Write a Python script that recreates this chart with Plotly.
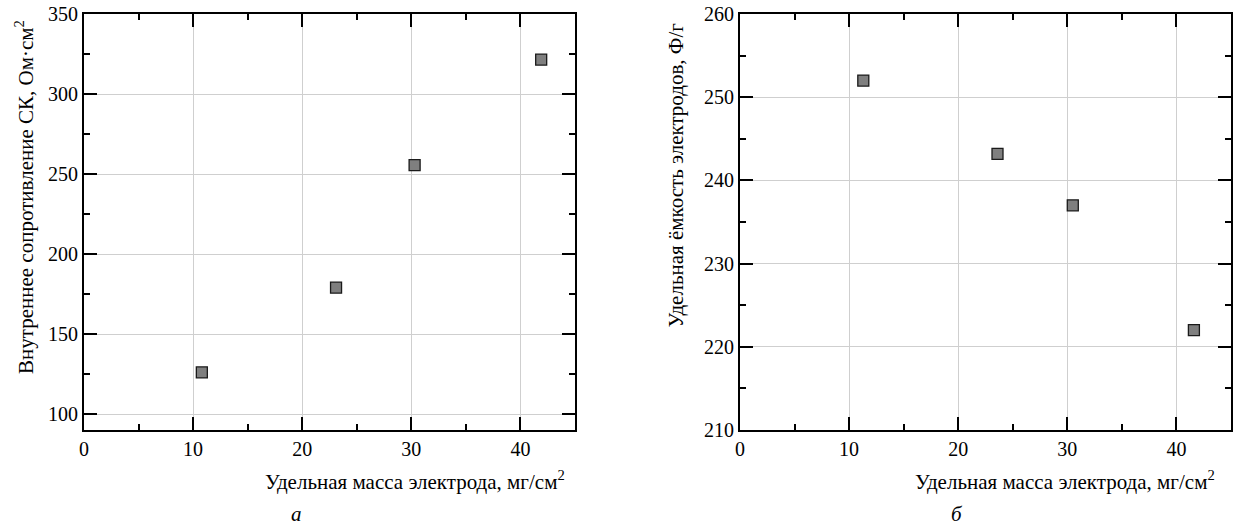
import plotly.graph_objects as go

# Panel a: internal resistance vs electrode specific mass
mass_a = [10.8, 23.1, 30.3, 41.9]
resist_a = [126, 179, 255.5, 321.5]

# Panel b: specific capacitance vs electrode specific mass
mass_b = [11.3, 23.6, 30.5, 41.6]
capac_b = [252, 243.2, 237, 222]

x_title = "Удельная масса электрода, мг/см<sup>2</sup>"
y_title_a = "Внутреннее сопротивление СК, Ом·см<sup>2</sup>"
y_title_b = "Удельная ёмкость электродов, Ф/г"

W, H = 1237, 527
FONT = "Liberation Serif"

def px_x(p):
    return p / W

def px_y(p):
    return 1 - p / H

marker = dict(symbol="square", size=11, color="#7f7f7f",
              line=dict(color="#1a1a1a", width=1.3))

fig = go.Figure()
fig.add_trace(go.Scatter(x=mass_a, y=resist_a, mode="markers", marker=marker,
                         xaxis="x", yaxis="y", showlegend=False))
fig.add_trace(go.Scatter(x=mass_b, y=capac_b, mode="markers", marker=marker,
                         xaxis="x2", yaxis="y2", showlegend=False))

axis_common = dict(
    showline=True, linecolor="black", linewidth=2, mirror="allticks",
    ticks="inside", ticklen=13, tickwidth=1.5, tickcolor="black",
    showgrid=True, gridcolor="#cfcfcf", gridwidth=1, zeroline=False,
    automargin=False,
    tickfont=dict(family=FONT, size=20, color="black"),
)

fig.update_layout(
    width=W, height=H,
    margin=dict(l=0, r=0, t=0, b=0, autoexpand=False),
    paper_bgcolor="white", plot_bgcolor="white",
    font=dict(family=FONT, color="black"),
    xaxis=dict(domain=[px_x(84), px_x(575)], range=[0, 45], dtick=10,
               minor=dict(ticks="inside", ticklen=6, tickwidth=1.5, dtick=5, tickcolor="black", showgrid=False),
               anchor="y", **axis_common),
    yaxis=dict(domain=[px_y(430), px_y(14)], range=[90, 350], dtick=50, tick0=0,
               minor=dict(ticks="inside", ticklen=6, tickwidth=1.5, dtick=25, tick0=0, tickcolor="black", showgrid=False),
               anchor="x", **axis_common),
    xaxis2=dict(domain=[px_x(740), px_x(1231)], range=[0, 45], dtick=10,
                minor=dict(ticks="inside", ticklen=6, tickwidth=1.5, dtick=5, tickcolor="black", showgrid=False),
                anchor="y2", **axis_common),
    yaxis2=dict(domain=[px_y(430), px_y(14)], range=[210, 260], dtick=10,
                minor=dict(ticks="inside", ticklen=6, tickwidth=1.5, dtick=5, tickcolor="black", showgrid=False),
                anchor="x2", **axis_common),
)

ann_font = dict(family=FONT, size=21, color="black")
annotations = [
    dict(text=x_title, x=px_x(567), y=px_y(480), xref="paper", yref="paper",
         xanchor="right", yanchor="middle", showarrow=False, font=ann_font),
    dict(text=x_title, x=px_x(1217), y=px_y(480), xref="paper", yref="paper",
         xanchor="right", yanchor="middle", showarrow=False, font=ann_font),
    dict(text=y_title_a, x=px_x(24), y=px_y(18), xref="paper", yref="paper",
         xanchor="center", yanchor="top", textangle=-90, showarrow=False, font=ann_font),
    dict(text=y_title_b, x=px_x(675), y=px_y(20), xref="paper", yref="paper",
         xanchor="center", yanchor="top", textangle=-90, showarrow=False, font=ann_font),
    dict(text="<i>а</i>", x=px_x(296), y=px_y(514), xref="paper", yref="paper",
         xanchor="center", yanchor="middle", showarrow=False, font=ann_font),
    dict(text="<i>б</i>", x=px_x(957), y=px_y(514), xref="paper", yref="paper",
         xanchor="center", yanchor="middle", showarrow=False, font=ann_font),
]
fig.update_layout(annotations=annotations)

fig.write_html("out.html")
